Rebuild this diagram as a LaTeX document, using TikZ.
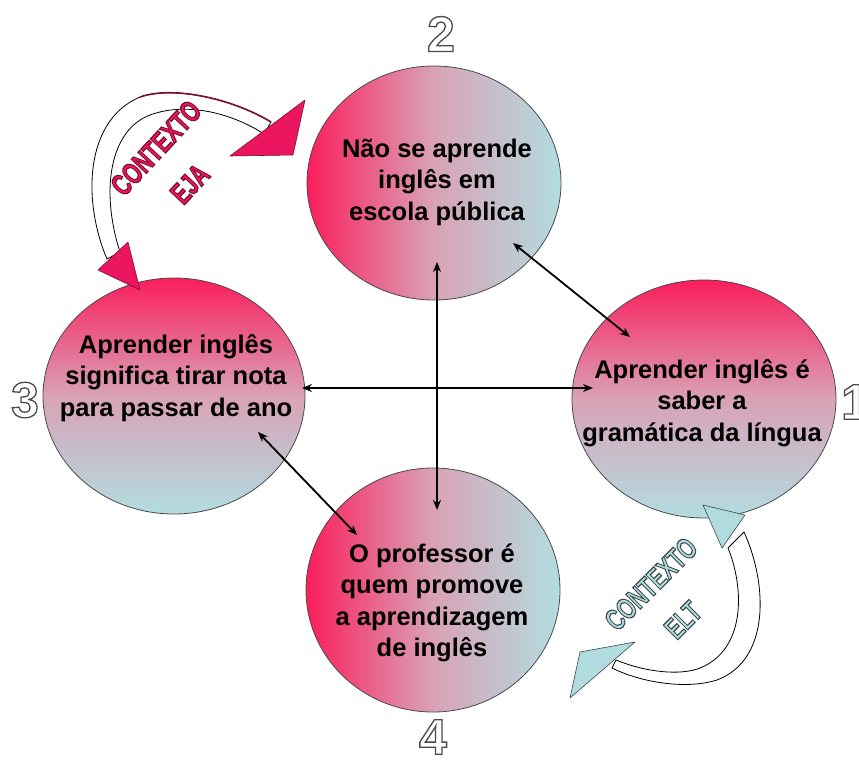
\documentclass[tikz,border=0pt]{standalone}
\usepackage{fontspec}
\setmainfont{Liberation Sans}
\usetikzlibrary{shapes.geometric,arrows.meta}
\definecolor{pk}{HTML}{FA1E5C}
\definecolor{lb}{HTML}{B2DDE0}
\definecolor{mid}{HTML}{D9A2B6}
\definecolor{edge}{HTML}{4A4A4A}
\definecolor{ejapink}{HTML}{EC1560}
\definecolor{ejadark}{HTML}{7A0E30}
\definecolor{eltblue}{HTML}{B0DCDF}
\definecolor{eltdark}{HTML}{3C4A4C}
% outlined text: #1 fill colour, #2 stroke rgb, #3 stroke width, #4 text
\newcommand\outltxt[4]{{\color{#1}\special{pdf:literal direct #2 RG #3 w 2 Tr}#4\special{pdf:literal direct 0 Tr}}}
\begin{document}
\begin{tikzpicture}[x=1pt,y=-1pt,
  ell/.style={ellipse, draw=edge, line width=0.8pt, inner sep=0pt},
  hgrad/.style={left color=pk, right color=lb, middle color=mid},
  vgrad/.style={top color=pk, bottom color=lb, middle color=mid},
  txt/.style={font=\bfseries\fontsize{25.5}{31.5}\selectfont, align=center, text=black, inner sep=0pt},
  con/.style={line width=1.8pt, {Stealth[length=10pt,width=8pt]}-{Stealth[length=10pt,width=8pt]}},
  num/.style={font=\bfseries\fontsize{50}{50}\selectfont, inner sep=0pt},
  ctx/.style={font=\bfseries\fontsize{30}{34}\selectfont, inner sep=0pt},
  band/.style={fill=white, draw=black, line width=0.8pt},
  ejahead/.style={fill=ejapink, draw=ejadark, line width=0.6pt, line join=round},
  elthead/.style={fill=eltblue, draw=eltdark, line width=0.6pt, line join=round}]
\useasboundingbox (0,0) rectangle (859,760);

% circles
\node[ell, hgrad, minimum width=254pt, minimum height=234pt] (c2) at (434,183) {};
\node[ell, vgrad, minimum width=264pt, minimum height=238pt] (c1) at (704,399) {};
\node[ell, vgrad, minimum width=262pt, minimum height=236pt] (c3) at (174,396) {};
\node[ell, hgrad, minimum width=254pt, minimum height=244pt] (c4) at (433,590) {};

% texts
\node[txt] (t2) at (437,182) {Não se aprende\\inglês em\\escola pública};
\node[txt] (t1) at (702,403) {Aprender inglês é\\saber a\\gramática da língua};
\node[txt] (t3) at (176,378) {Aprender inglês\\significa tirar nota\\para passar de ano};
\node[txt] (t4) at (432,603) {O professor é\\quem promove\\a aprendizagem\\de inglês};

% connector end points
\coordinate (v1) at (437,262);
\coordinate (v2) at (437,510);
\coordinate (h1) at (302,388);
\coordinate (h2) at (593,388);
\coordinate (d1) at (513,243);
\coordinate (d2) at (630,337);
\coordinate (e1) at (258,432);
\coordinate (e2) at (357,535);
\draw[con] (v1) -- (v2);
\draw[con] (h1) -- (h2);
\draw[con] (d1) -- (d2);
\draw[con] (e1) -- (e2);

% numbers
\node[num] (n2) at (441,34) {\outltxt{white}{0.29 0.29 0.29}{1.3}{2}};
\node[num] (n3) at (25,400) {\outltxt{white}{0.29 0.29 0.29}{1.3}{3}};
\node[num] (n1) at (855,402) {\outltxt{white}{0.29 0.29 0.29}{1.3}{1}};
\node[num] (n4) at (433,737) {\outltxt{white}{0.29 0.29 0.29}{1.3}{4}};

% EJA curved arrow
\path[band] (107,259) .. controls (82,200) and (85,120) .. (140,97)
  .. controls (175,85) and (235,100) .. (271,122) -- (264,134)
  .. controls (230,112) and (185,102) .. (150,115)
  .. controls (110,130) and (100,190) .. (120,252) -- cycle;
\draw[ejadark, line width=1.6pt] (140,97) .. controls (175,85) and (235,100) .. (271,122);
\path[ejahead] (305,100) -- (230,156) -- (293,155) -- cycle;
\path[ejahead] (128,242) -- (98,270) -- (140,290) -- cycle;
\node[ctx, rotate=47] (ctxa) at (156,148) {\scalebox{0.7}[1]{\outltxt{ejapink}{0.48 0.05 0.19}{1.2}{CONTEXTO}}};
\node[ctx, rotate=47] (ejat) at (190,184) {\scalebox{0.7}[1]{\outltxt{ejapink}{0.48 0.05 0.19}{1.2}{EJA}}};

% ELT curved arrow
\path[band] (744,532) .. controls (768,585) and (770,660) .. (717,680)
  .. controls (685,690) and (640,682) .. (612,668) -- (616,660)
  .. controls (645,672) and (680,676) .. (700,668)
  .. controls (745,650) and (745,590) .. (728,548) -- cycle;
\path[elthead] (703,505) -- (745,515) -- (722,548) -- cycle;
\path[elthead] (635,642) -- (580,652) -- (570,698) -- cycle;
\node[ctx, rotate=45] (ctxb) at (651,584) {\scalebox{0.7}[1]{\outltxt{eltblue}{0.24 0.29 0.30}{1.2}{CONTEXTO}}};
\node[ctx, rotate=45] (eltt) at (683,620) {\scalebox{0.7}[1]{\outltxt{eltblue}{0.24 0.29 0.30}{1.2}{ELT}}};
\end{tikzpicture}
\end{document}
